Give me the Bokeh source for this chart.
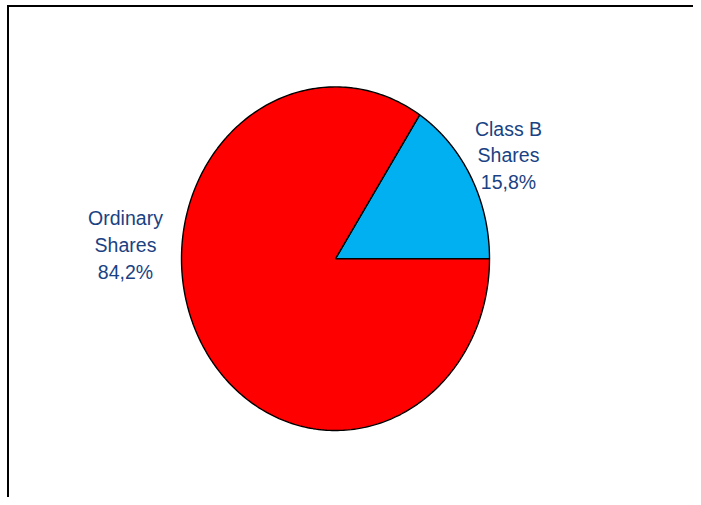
from bokeh.plotting import figure
from bokeh.models import Range1d, ColumnDataSource
from bokeh.embed import file_html
from bokeh.resources import INLINE
from bokeh.core.properties import value
import numpy as np

# ---- data ----
categories = ["Class B Shares", "Ordinary Shares"]
shares = [15.8, 84.2]
label_texts = ["Class B\nShares\n15,8%", "Ordinary\nShares\n84,2%"]
colors = ["#00B0F0", "#FF0000"]

# ---- layout (pixels, relative to figure origin) ----
W, H = 693, 497
cx_px, cy_px = 335.0, 258.2     # pie centre
rx_px, ry_px = 154.0, 171.8     # horizontal / vertical radius

def px_x(v):
    return (v - cx_px) / rx_px

def px_y(v):
    return (cy_px - v) / ry_px

p = figure(width=W, height=H, output_backend="svg", toolbar_location=None,
           x_range=Range1d(px_x(0), px_x(W)), y_range=Range1d(px_y(H), px_y(0)),
           min_border=0, outline_line_color=None)
p.axis.visible = False
p.grid.visible = False
p.background_fill_color = "white"
p.border_fill_color = "white"

# wedges as patches so the pie follows the (elliptical) data scale
fr = np.array(shares) / sum(shares)
ends = np.cumsum(fr) * 2 * np.pi
starts = np.concatenate([[0.0], ends[:-1]])
xs, ys = [], []
for a0, a1 in zip(starts, ends):
    t = np.linspace(a0, a1, 300)
    xs.append(np.concatenate([[0.0], np.cos(t), [0.0]]).tolist())
    ys.append(np.concatenate([[0.0], np.sin(t), [0.0]]).tolist())
p.patches(xs=xs, ys=ys, fill_color=colors, line_color="black", line_width=1.4)

# labels
lx = [px_x(508), px_x(125)]
ly = [px_y(155), px_y(244.5)]
src = ColumnDataSource(dict(x=lx, y=ly, text=label_texts))
p.text(x="x", y="y", text="text", source=src, text_align="center",
       text_baseline="middle", text_font=value("Liberation Sans"),
       text_font_size="19.5px", text_color="#1A4283", text_line_height=1.22)

# chart-area frame (top and left edges only; the rest runs off the page)
fx = [px_x(7.5), px_x(7.5), px_x(W + 5)]
fy = [px_y(H + 5), px_y(5.5), px_y(5.5)]
p.line(fx, fy, line_color="black", line_width=2, line_join="miter")

open("out.html", "w").write(file_html(p, INLINE))
